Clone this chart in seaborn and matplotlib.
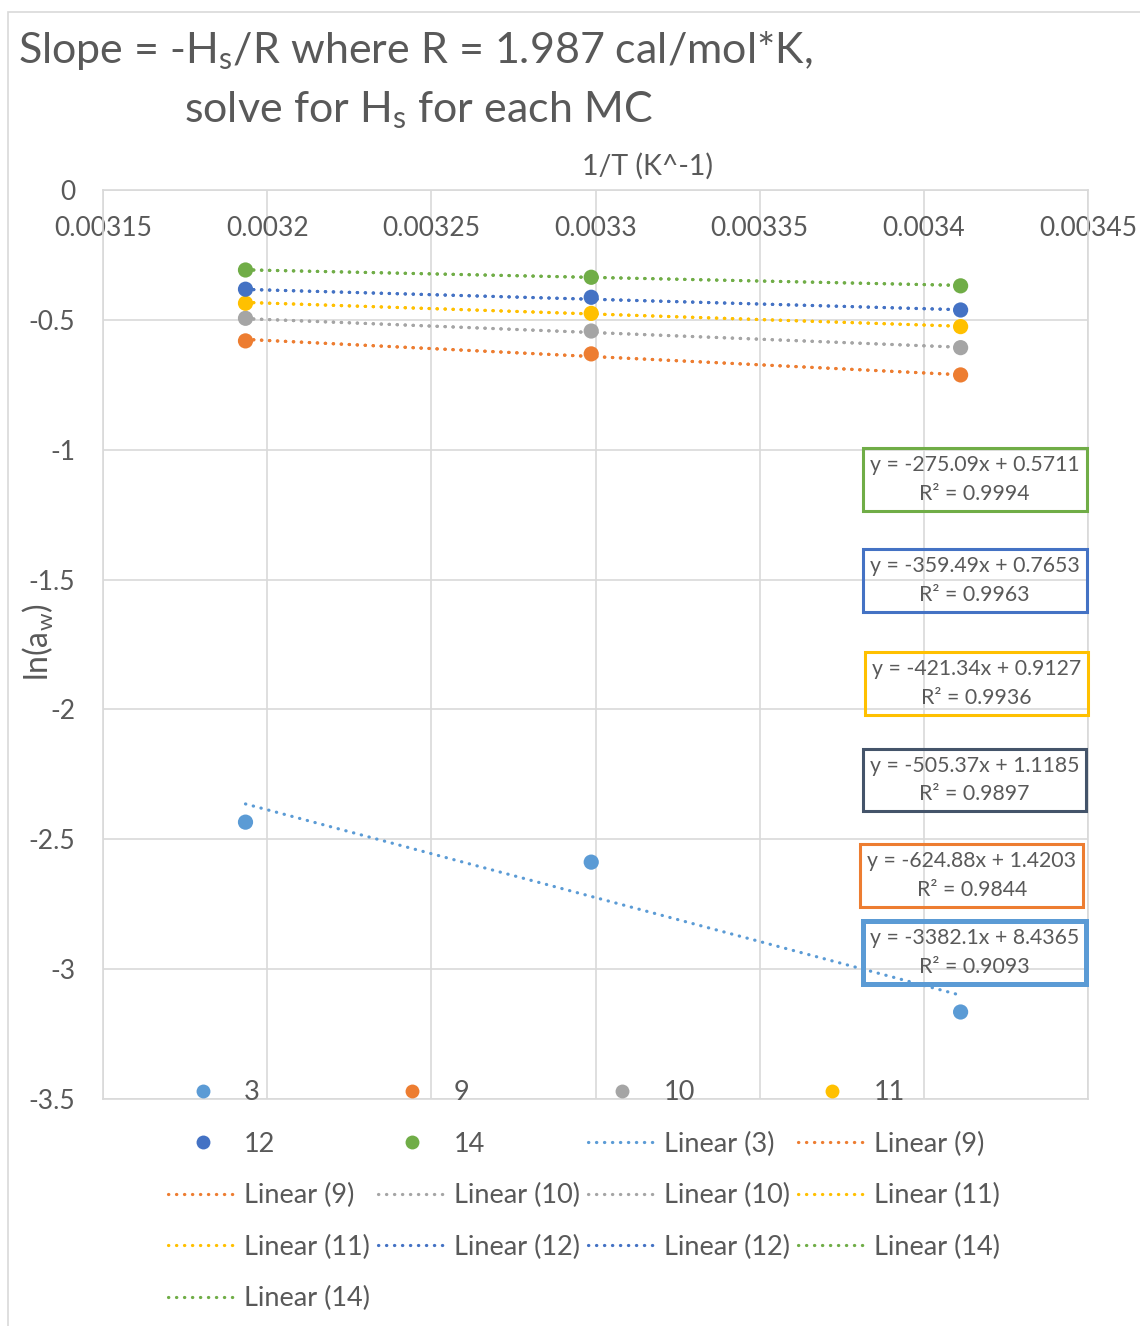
import numpy as np
import pandas as pd
import matplotlib
matplotlib.use("Agg")
import matplotlib.pyplot as plt
from matplotlib.lines import Line2D
from matplotlib.patches import Rectangle
import seaborn as sns

# ---- data -------------------------------------------------------------
inv_T = [0.0031934, 0.0032987, 0.0034112]          # 1/T (K^-1)
mc_labels = ["3", "9", "10", "11", "12", "14"]    # moisture content series
ln_aw_3 = [-2.434, -2.588, -3.165]
ln_aw_9 = [-0.581, -0.631, -0.712]
ln_aw_10 = [-0.494, -0.543, -0.607]
ln_aw_11 = [-0.436, -0.475, -0.526]
ln_aw_12 = [-0.382, -0.413, -0.462]
ln_aw_14 = [-0.308, -0.336, -0.369]

fit_slopes = [-3382.1, -624.88, -505.37, -421.34, -359.49, -275.09]
fit_intercepts = [8.4365, 1.4203, 1.1185, 0.9127, 0.7653, 0.5711]
fit_r2 = [0.9093, 0.9844, 0.9897, 0.9936, 0.9963, 0.9994]
trend_counts = [1, 2, 2, 2, 2, 2]

x_ticks = [0.00315, 0.0032, 0.00325, 0.0033, 0.00335, 0.0034, 0.00345]
x_tick_labels = ["0.00315", "0.0032", "0.00325", "0.0033", "0.00335", "0.0034", "0.00345"]
y_ticks = [0, -0.5, -1, -1.5, -2, -2.5, -3, -3.5]
y_tick_labels = ["0", "-0.5", "-1", "-1.5", "-2", "-2.5", "-3", "-3.5"]

series_values = [ln_aw_3, ln_aw_9, ln_aw_10, ln_aw_11, ln_aw_12, ln_aw_14]

# ---- style ------------------------------------------------------------
colors = ["#5B9BD5", "#ED7D31", "#A5A5A5", "#FFC000", "#4472C4", "#70AD47"]
box_edges = ["#5B9BD5", "#ED7D31", "#44546A", "#FFC000", "#4472C4", "#70AD47"]
box_widths = [3.6, 2.2, 2.2, 2.2, 2.2, 2.2]
box_centers = [(0.885, 0.1612), (0.882, 0.2459), (0.885, 0.3509),
               (0.887, 0.4571), (0.885, 0.5704), (0.885, 0.6815)]
palette = dict(zip(mc_labels, colors))
txt = "#595959"
grid_c = "#D9D9D9"

sns.set_theme(style="white")
plt.rcParams["font.family"] = ["Lato", "DejaVu Sans"]
plt.rcParams["mathtext.fontset"] = "custom"
plt.rcParams["mathtext.rm"] = "Lato"
plt.rcParams["mathtext.it"] = "Lato:italic"

df = pd.DataFrame({
    "inv_T": np.tile(inv_T, len(mc_labels)),
    "ln_aw": np.concatenate(series_values),
    "MC": np.repeat(mc_labels, len(inv_T)),
})

W, H = 1140, 1326
fig = plt.figure(figsize=(W / 100, H / 100), dpi=100)
fig.patch.set_facecolor("white")
fig.add_artist(Rectangle((8 / W, -0.01), 1.02, 1 - 12 / H + 0.01,
                         transform=fig.transFigure, fill=False,
                         ec=grid_c, lw=1.2))

ax = fig.add_axes([103 / W, 227 / H, 985 / W, 909 / H])
ax.set_facecolor("none")

# round-dot trendlines
dot = (0, (0.1, 2.4))
x_span = np.array([min(inv_T), max(inv_T)])
for lab, col, m, b, n in zip(mc_labels, colors, fit_slopes, fit_intercepts, trend_counts):
    for _ in range(n):
        ax.plot(x_span, m * x_span + b, color=col, lw=2.3, linestyle=dot,
                dash_capstyle="round", zorder=2)

sns.scatterplot(data=df, x="inv_T", y="ln_aw", hue="MC", palette=palette,
                s=120, linewidth=0, legend=False, ax=ax, zorder=3)

ax.set_xlim(0.00315, 0.00345)
ax.set_ylim(-3.5, 0)
ax.set_xticks(x_ticks)
ax.set_xticklabels(x_tick_labels)
ax.set_yticks(y_ticks)
ax.set_yticklabels(y_tick_labels)
ax.xaxis.tick_top()
ax.tick_params(axis="x", length=0, pad=-37, labelsize=19, labelcolor=txt)
ax.tick_params(axis="y", length=0, pad=20, labelsize=19, labelcolor=txt)
ax.set_xlabel("")
ax.set_ylabel("")
ax.grid(True, color=grid_c, lw=1.2)
ax.set_axisbelow(True)
for sp in ax.spines.values():
    sp.set_color(grid_c)
    sp.set_linewidth(1.2)

# trendline equation labels
for m, b, r2, ec, lw, (cx, cy) in zip(fit_slopes, fit_intercepts, fit_r2,
                                      box_edges, box_widths, box_centers):
    ax.text(cx, cy, f"y = {m:g}x + {b:g}\nR² = {r2:g}", transform=ax.transAxes,
            ha="center", va="center", multialignment="center", fontsize=15.3,
            color=txt, linespacing=1.55, zorder=4,
            bbox=dict(boxstyle="square,pad=0.33", fc="none", ec=ec, lw=lw))

# titles
fig.text(18 / W, 1 - 63 / H, r"Slope = -$\mathregular{H_s}$/R where R = 1.987 cal/mol*K,",
         fontsize=31, color=txt, va="baseline", ha="left")
fig.text(184 / W, 1 - 122 / H, r"solve for $\mathregular{H_s}$ for each MC",
         fontsize=31, color=txt, va="baseline", ha="left")
fig.text(648 / W, 1 - 175 / H, "1/T (K^-1)", fontsize=20.5, color=txt,
         va="baseline", ha="center")
fig.text(38 / W, 1 - 642 / H, r"ln($\mathregular{a_w}$)", fontsize=23, color=txt,
         rotation=90, va="center", ha="center")

# legend (Excel-style row-major order)
entries = []
for lab, col in zip(mc_labels, colors):
    entries.append((Line2D([], [], marker="o", ls="none", color=col,
                           markersize=10, markeredgewidth=0), lab))
for lab, col, n in zip(mc_labels, colors, trend_counts):
    for _ in range(n):
        entries.append((Line2D([], [], color=col, lw=2.3, linestyle=dot,
                               dash_capstyle="round"), f"Linear ({lab})"))
ncol = 4
ordered = [e for c in range(ncol) for e in entries[c::ncol]]
fig.legend([e[0] for e in ordered], [e[1] for e in ordered], ncol=ncol,
           loc="upper left", bbox_to_anchor=(168 / W, 1 - 1080 / H),
           frameon=False, fontsize=19.5, labelcolor=txt, handlelength=2.55,
           handletextpad=0.25, columnspacing=0.3, labelspacing=0.98,
           borderpad=0, borderaxespad=0)

fig.savefig("out.png", dpi=100)
